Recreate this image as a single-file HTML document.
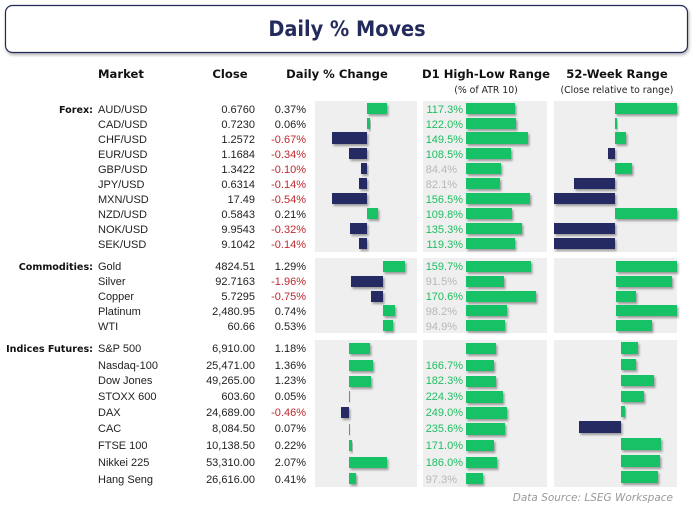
<!DOCTYPE html>
<html><head><meta charset="utf-8"><style>
html,body{margin:0;padding:0;background:#fff;}
svg{display:block;}
.h{font-family:"DejaVu Sans","Liberation Sans",sans-serif;font-weight:bold;font-size:11.6px;fill:#111;}
.s{font-family:"DejaVu Sans","Liberation Sans",sans-serif;font-size:9.3px;fill:#222;}
.d{font-family:"Liberation Sans",sans-serif;font-size:11px;fill:#222;}
.c{font-family:"DejaVu Sans","Liberation Sans",sans-serif;font-weight:bold;font-size:9.6px;fill:#111;}
.r{fill:#c0282d;}
.g{font-family:"Liberation Sans",sans-serif;font-size:11px;fill:#1dbf60;}
.gy{font-family:"Liberation Sans",sans-serif;font-size:11px;fill:#b8b8b8;}
.G{fill:#13c265;filter:url(#sh);}
.N{fill:#262a63;filter:url(#sh);}
</style></head><body>
<svg width="696" height="507" viewBox="0 0 696 507" xmlns="http://www.w3.org/2000/svg">
<defs><filter id="sh" x="-20%" y="-30%" width="150%" height="180%"><feDropShadow dx="1.5" dy="2" stdDeviation="1" flood-color="#000" flood-opacity="0.35"/></filter>
<filter id="sh2"><feDropShadow dx="1" dy="2" stdDeviation="1.5" flood-color="#000" flood-opacity="0.3"/></filter></defs>
<rect x="5.5" y="5.5" width="682" height="47" rx="7" fill="#fff" stroke="#232a5c" stroke-width="1.2" filter="url(#sh2)"/>
<text x="347" y="36" text-anchor="middle" font-family="DejaVu Sans,Liberation Sans,sans-serif" font-weight="bold" font-size="21" fill="#232a5c" transform="translate(347 0) scale(0.92 1) translate(-347 0)">Daily % Moves</text>
<text class="h" x="98" y="78">Market</text>
<text class="h" x="230" y="78" text-anchor="middle">Close</text>
<text class="h" x="337" y="78" text-anchor="middle">Daily % Change</text>
<text class="h" x="486" y="78" text-anchor="middle">D1 High-Low Range</text>
<text class="h" x="617" y="78" text-anchor="middle">52-Week Range</text>
<text class="s" x="486" y="93" text-anchor="middle">(% of ATR 10)</text>
<text class="s" x="617" y="93" text-anchor="middle">(Close relative to range)</text>
<g fill="#efefef">
<rect x="315" y="101" width="102" height="151"/><rect x="423" y="101" width="124" height="151"/><rect x="554" y="101" width="123" height="151"/>
<rect x="315" y="258" width="102" height="75"/><rect x="423" y="258" width="124" height="75"/><rect x="554" y="258" width="123" height="75"/>
<rect x="315" y="340" width="102" height="147"/><rect x="423" y="340" width="124" height="147"/><rect x="554" y="340" width="123" height="147"/>
</g>
<text class="c" x="93" y="113" text-anchor="end">Forex:</text>
<text class="c" x="93" y="270" text-anchor="end">Commodities:</text>
<text class="c" x="93" y="352" text-anchor="end">Indices Futures:</text>
<g class="d">
<text x="98" y="113">AUD/USD</text><text x="98" y="128">CAD/USD</text><text x="98" y="143">CHF/USD</text><text x="98" y="158">EUR/USD</text><text x="98" y="173">GBP/USD</text><text x="98" y="188">JPY/USD</text><text x="98" y="203">MXN/USD</text><text x="98" y="218">NZD/USD</text><text x="98" y="233">NOK/USD</text><text x="98" y="248">SEK/USD</text>
<text x="98" y="270">Gold</text><text x="98" y="285">Silver</text><text x="98" y="300">Copper</text><text x="98" y="315">Platinum</text><text x="98" y="330">WTI</text>
<text x="98" y="352">S&amp;P 500</text><text x="98" y="369">Nasdaq-100</text><text x="98" y="384">Dow Jones</text><text x="98" y="400">STOXX 600</text><text x="98" y="416">DAX</text><text x="98" y="432">CAC</text><text x="98" y="449">FTSE 100</text><text x="98" y="466">Nikkei 225</text><text x="98" y="483">Hang Seng</text>
</g>
<g class="d" text-anchor="end">
<text x="255" y="113">0.6760</text><text x="255" y="128">0.7230</text><text x="255" y="143">1.2572</text><text x="255" y="158">1.1684</text><text x="255" y="173">1.3422</text><text x="255" y="188">0.6314</text><text x="255" y="203">17.49</text><text x="255" y="218">0.5843</text><text x="255" y="233">9.9543</text><text x="255" y="248">9.1042</text>
<text x="255" y="270">4824.51</text><text x="255" y="285">92.7163</text><text x="255" y="300">5.7295</text><text x="255" y="315">2,480.95</text><text x="255" y="330">60.66</text>
<text x="255" y="352">6,910.00</text><text x="255" y="369">25,471.00</text><text x="255" y="384">49,265.00</text><text x="255" y="400">603.60</text><text x="255" y="416">24,689.00</text><text x="255" y="432">8,084.50</text><text x="255" y="449">10,138.50</text><text x="255" y="466">53,310.00</text><text x="255" y="483">26,616.00</text>
<text x="306" y="113">0.37%</text><text x="306" y="128">0.06%</text><text class="r" x="306" y="143">-0.67%</text><text class="r" x="306" y="158">-0.34%</text><text class="r" x="306" y="173">-0.10%</text><text class="r" x="306" y="188">-0.14%</text><text class="r" x="306" y="203">-0.54%</text><text x="306" y="218">0.21%</text><text class="r" x="306" y="233">-0.32%</text><text class="r" x="306" y="248">-0.14%</text>
<text x="306" y="270">1.29%</text><text class="r" x="306" y="285">-1.96%</text><text class="r" x="306" y="300">-0.75%</text><text x="306" y="315">0.74%</text><text x="306" y="330">0.53%</text>
<text x="306" y="352">1.18%</text><text x="306" y="369">1.36%</text><text x="306" y="384">1.23%</text><text x="306" y="400">0.05%</text><text class="r" x="306" y="416">-0.46%</text><text x="306" y="432">0.07%</text><text x="306" y="449">0.22%</text><text x="306" y="466">2.07%</text><text x="306" y="483">0.41%</text>
</g>
<rect class="G" x="367" y="103" width="20" height="11"/><rect class="G" x="367" y="118" width="3" height="11"/><rect class="N" x="332" y="132" width="35" height="12"/><rect class="N" x="349" y="148" width="18" height="11"/><rect class="N" x="361" y="163" width="6" height="11"/><rect class="N" x="359" y="178" width="8" height="11"/><rect class="N" x="332" y="193" width="35" height="11"/><rect class="G" x="367" y="208" width="11" height="11"/><rect class="N" x="350" y="223" width="17" height="11"/><rect class="N" x="359" y="238" width="8" height="11"/>
<rect class="G" x="383" y="261" width="22" height="11"/><rect class="N" x="351" y="276" width="32" height="11"/><rect class="N" x="371" y="291" width="12" height="11"/><rect class="G" x="383" y="305" width="12" height="11"/><rect class="G" x="383" y="320" width="10" height="11"/>
<rect class="G" x="349" y="343" width="21" height="11"/><rect class="G" x="349" y="360" width="24" height="11"/><rect class="G" x="349" y="376" width="22" height="11"/><rect class="G" x="349" y="391" width="1" height="11"/><rect class="N" x="341" y="407" width="8" height="11"/><rect class="G" x="349" y="424" width="1" height="11"/><rect class="G" x="349" y="440" width="3" height="11"/><rect class="G" x="349" y="457" width="38" height="11"/><rect class="G" x="349" y="473" width="7" height="11"/>
<g text-anchor="end">
<text class="g" x="463" y="113">117.3%</text><text class="g" x="463" y="128">122.0%</text><text class="g" x="463" y="143">149.5%</text><text class="g" x="463" y="158">108.5%</text><text class="gy" x="457" y="173">84.4%</text><text class="gy" x="457" y="188">82.1%</text><text class="g" x="463" y="203">156.5%</text><text class="g" x="463" y="218">109.8%</text><text class="g" x="463" y="233">135.3%</text><text class="g" x="463" y="248">119.3%</text>
<text class="g" x="463" y="270">159.7%</text><text class="gy" x="457" y="285">91.5%</text><text class="g" x="463" y="300">170.6%</text><text class="gy" x="457" y="315">98.2%</text><text class="gy" x="457" y="330">94.9%</text>
<text class="g" x="463" y="369">166.7%</text><text class="g" x="463" y="384">182.3%</text><text class="g" x="463" y="400">224.3%</text><text class="g" x="463" y="416">249.0%</text><text class="g" x="463" y="432">235.6%</text><text class="g" x="463" y="449">171.0%</text><text class="g" x="463" y="466">186.0%</text><text class="gy" x="457" y="483">97.3%</text>
</g>
<rect class="G" x="466" y="103" width="49" height="11"/><rect class="G" x="466" y="118" width="50" height="11"/><rect class="G" x="466" y="132" width="62" height="12"/><rect class="G" x="466" y="148" width="45" height="11"/><rect class="G" x="466" y="163" width="35" height="11"/><rect class="G" x="466" y="178" width="34" height="11"/><rect class="G" x="466" y="193" width="64" height="11"/><rect class="G" x="466" y="208" width="46" height="11"/><rect class="G" x="466" y="223" width="56" height="11"/><rect class="G" x="466" y="238" width="49" height="11"/>
<rect class="G" x="466" y="261" width="65" height="11"/><rect class="G" x="466" y="276" width="38" height="11"/><rect class="G" x="466" y="291" width="70" height="11"/><rect class="G" x="466" y="305" width="41" height="11"/><rect class="G" x="466" y="320" width="39" height="11"/>
<rect class="G" x="466" y="343" width="30" height="11"/><rect class="G" x="466" y="360" width="28" height="11"/><rect class="G" x="466" y="376" width="30" height="11"/><rect class="G" x="466" y="391" width="37" height="12"/><rect class="G" x="466" y="407" width="41" height="12"/><rect class="G" x="466" y="423" width="39" height="12"/><rect class="G" x="466" y="440" width="28" height="11"/><rect class="G" x="466" y="457" width="31" height="11"/><rect class="G" x="466" y="473" width="17" height="11"/>
<rect class="G" x="615" y="103" width="62" height="11"/><rect class="G" x="615" y="118" width="2" height="11"/><rect class="G" x="615" y="132" width="11" height="12"/><rect class="N" x="608" y="148" width="7" height="11"/><rect class="G" x="615" y="163" width="17" height="11"/><rect class="N" x="574" y="178" width="41" height="11"/><rect class="N" x="554" y="193" width="61" height="11"/><rect class="G" x="615" y="208" width="62" height="11"/><rect class="N" x="554" y="223" width="61" height="11"/><rect class="N" x="554" y="238" width="61" height="11"/>
<rect class="G" x="616" y="261" width="61" height="11"/><rect class="G" x="616" y="276" width="56" height="11"/><rect class="G" x="616" y="291" width="20" height="11"/><rect class="G" x="616" y="305" width="61" height="11"/><rect class="G" x="616" y="320" width="36" height="11"/>
<rect class="G" x="621" y="342" width="17" height="12"/><rect class="G" x="621" y="359" width="15" height="11"/><rect class="G" x="621" y="375" width="33" height="11"/><rect class="G" x="621" y="391" width="23" height="11"/><rect class="G" x="621" y="406" width="4" height="11"/><rect class="N" x="579" y="421" width="42" height="12"/><rect class="G" x="621" y="438" width="40" height="12"/><rect class="G" x="621" y="455" width="39" height="12"/><rect class="G" x="621" y="471" width="37" height="12"/>
<text x="673" y="501" text-anchor="end" font-family="DejaVu Sans,Liberation Sans,sans-serif" font-style="italic" font-size="10.5" fill="#999">Data Source: LSEG Workspace</text>
</svg>
</body></html>
